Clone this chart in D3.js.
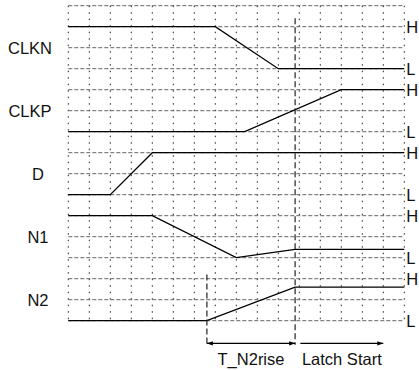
<!DOCTYPE html>
<html>
<head lang="en">
    <meta charset="UTF-8">
    <title>Latch timing</title>
    <script type="text/javascript" src="https://cdn.jsdelivr.net/npm/d3@7"></script>
    <style>
        body { margin: 0; background: #fff; }
        text { font-family: "Liberation Sans", Arial, sans-serif; fill: #111; }
    </style>
</head>
<body>
<div class="holder"></div>

<script>
    // signal names, top to bottom
    var names = ["CLKN", "CLKP", "D", "N1", "N2"];
    // waveforms as [time, level] with level 1 = H, 0 = L
    var clkn = [[0, 1], [7, 1], [10, 0], [16, 0]];
    var clkp = [[0, 0], [8.4, 0], [13, 1], [16, 1]];
    var dSig = [[0, 0], [2, 0], [4, 1], [16, 1]];
    var n1 = [[0, 1], [4, 1], [8, 0], [10.8, 0.2], [16, 0.2]];
    var n2 = [[0, 0], [6.6, 0], [10.8, 0.8], [16, 0.8]];
    var waves = [clkn, clkp, dSig, n1, n2];
    // markers in time
    var riseStart = 6.6, latchAt = 10.8, latchEnd = 15;
    var spanLabels = ["T_N2rise", "Latch Start"];

    var svg = d3.select(".holder")
            .append("svg")
            .attr("width", 419)
            .attr("height", 370);

    var x = d3.scaleLinear().domain([0, 16]).range([68.3, 404.3]);
    var row = d3.scaleLinear().domain([0, 15]).range([5.7, 320.7]);

    // level of signal i -> row index
    function lvl(i, v) { return 3 * i + 3 - 2 * v; }

    // grid: dotted verticals
    svg.append("g").selectAll("line")
            .data(d3.range(0, 17))
            .enter()
            .append("line")
            .attr("x1", function(d) { return x(d); })
            .attr("x2", function(d) { return x(d); })
            .attr("y1", row(0))
            .attr("y2", row(15))
            .attr("stroke", "#222")
            .attr("stroke-width", 1)
            .attr("stroke-dasharray", "1.5,5");

    // grid: dashed horizontals
    svg.append("g").selectAll("line")
            .data(d3.range(0, 16))
            .enter()
            .append("line")
            .attr("x1", x(0))
            .attr("x2", x(16))
            .attr("y1", function(d) { return row(d); })
            .attr("y2", function(d) { return row(d); })
            .attr("stroke", "#666")
            .attr("stroke-width", 1)
            .attr("stroke-dasharray", "4,2");

    // waveforms
    waves.forEach(function(w, i) {
        var line = d3.line()
                .x(function(p) { return x(p[0]); })
                .y(function(p) { return row(lvl(i, p[1])); });
        svg.append("path")
                .attr("d", line(w))
                .attr("fill", "none")
                .attr("stroke", "#000")
                .attr("stroke-width", 1.3);
    });

    // signal names
    svg.append("g").selectAll("text")
            .data(names)
            .enter()
            .append("text")
            .attr("x", function(d) { return d.length > 2 ? 30 : 38; })
            .attr("y", function(d, i) { return row(3 * i + 2); })
            .attr("dy", "0.36em")
            .attr("text-anchor", "middle")
            .style("font-size", "16.5px")
            .text(function(d) { return d; });

    // H / L labels
    names.forEach(function(n, i) {
        [["H", 1], ["L", 0]].forEach(function(h) {
            svg.append("text")
                    .attr("x", x(16) + 2)
                    .attr("y", row(lvl(i, h[1])))
                    .attr("dy", "0.36em")
                    .style("font-size", "16.5px")
                    .text(h[0]);
        });
    });

    // marker lines
    svg.append("line")
            .attr("x1", x(latchAt)).attr("x2", x(latchAt))
            .attr("y1", row(0.6)).attr("y2", row(16.15))
            .attr("stroke", "#222").attr("stroke-width", 1.2)
            .attr("stroke-dasharray", "6,3");
    svg.append("line")
            .attr("x1", x(riseStart)).attr("x2", x(riseStart))
            .attr("y1", row(12.8)).attr("y2", row(16.15))
            .attr("stroke", "#222").attr("stroke-width", 1.2)
            .attr("stroke-dasharray", "6,3");

    // arrow heads
    var defs = svg.append("defs");
    defs.append("marker")
            .attr("id", "head")
            .attr("viewBox", "0 0 10 10")
            .attr("refX", 10).attr("refY", 5)
            .attr("markerWidth", 6).attr("markerHeight", 6)
            .attr("markerUnits", "userSpaceOnUse")
            .attr("orient", "auto-start-reverse")
            .append("path")
            .attr("d", "M0,1.5L10,5L0,8.5Z")
            .attr("fill", "#000");

    var ay = row(16.08);
    svg.append("line")
            .attr("x1", x(riseStart)).attr("x2", x(latchAt))
            .attr("y1", ay).attr("y2", ay)
            .attr("stroke", "#000").attr("stroke-width", 1.3)
            .attr("marker-start", "url(#head)")
            .attr("marker-end", "url(#head)");
    svg.append("line")
            .attr("x1", x(latchAt + 0.25)).attr("x2", x(latchEnd))
            .attr("y1", ay).attr("y2", ay)
            .attr("stroke", "#000").attr("stroke-width", 1.3)
            .attr("marker-end", "url(#head)");

    // span labels
    var spans = [[riseStart, latchAt], [latchAt + 0.25, latchEnd]];
    svg.append("g").selectAll("text")
            .data(spanLabels)
            .enter()
            .append("text")
            .attr("x", function(d, i) { return x((spans[i][0] + spans[i][1]) / 2); })
            .attr("y", 365)
            .attr("text-anchor", "middle")
            .style("font-size", "16.5px")
            .text(function(d) { return d; });
</script>
</body>
</html>
